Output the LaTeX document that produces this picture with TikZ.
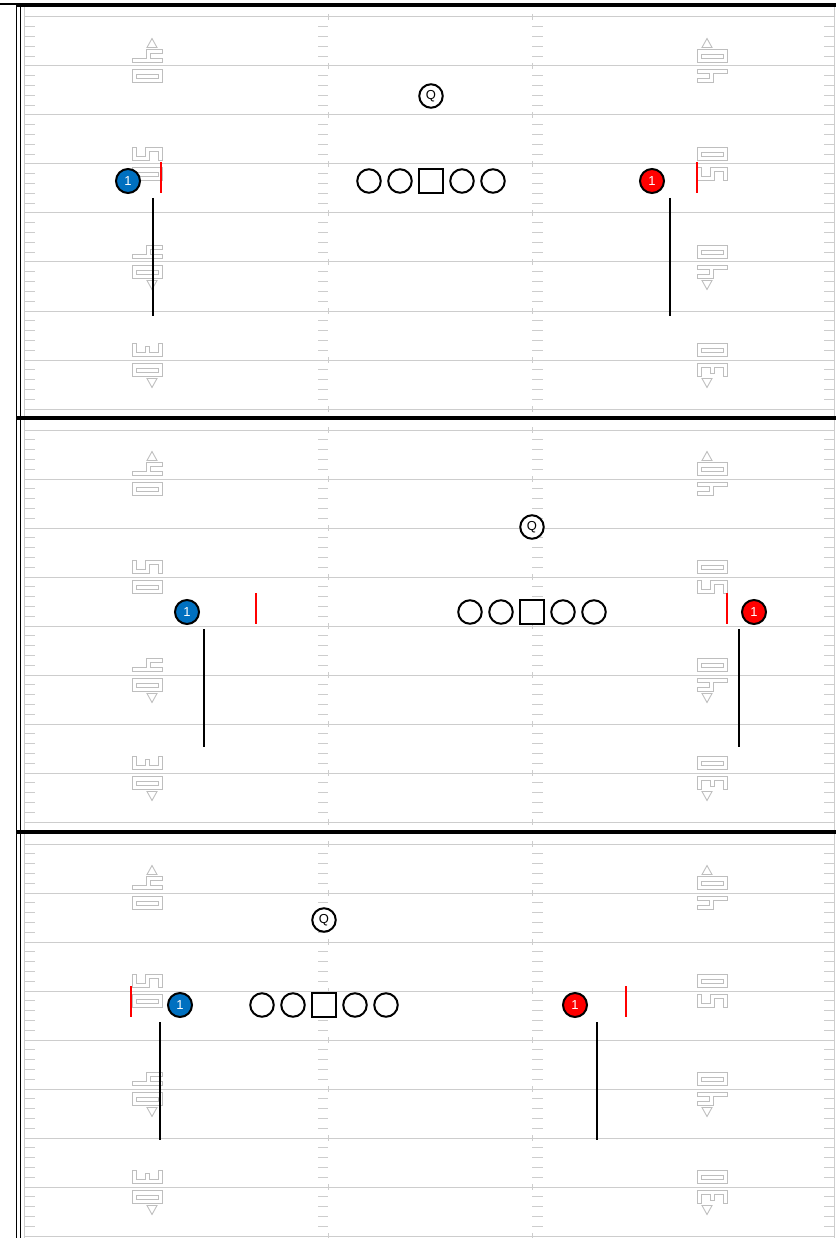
\documentclass[tikz,border=0pt]{standalone}
\usepackage{fontspec}
\setsansfont{Liberation Sans}
\usepackage{tikz}
\usetikzlibrary{positioning}

\definecolor{fieldgray}{RGB}{205,205,205}
\definecolor{numgray}{RGB}{190,190,190}
\definecolor{teamblue}{RGB}{0,112,192}
\definecolor{teamred}{RGB}{255,0,0}

\begin{document}
\begin{tikzpicture}[
  x=1pt, y=-1pt,
  font=\sffamily\fontsize{13}{13}\selectfont,
  yardline/.style={draw=fieldgray, line width=1pt},
  hashtick/.style={draw=fieldgray, line width=1pt},
  numline/.style={draw=numgray, line width=0.9pt},
  frameline/.style={draw=black, line width=1.6pt},
  panelline/.style={draw=black, line width=4pt},
  lineman/.style={circle, draw, fill=white, line width=2pt, minimum size=23.5pt, inner sep=0pt},
  snapper/.style={rectangle, draw, fill=white, line width=2pt, minimum size=23.5pt, inner sep=0pt},
  qback/.style={circle, draw, fill=white, line width=2pt, minimum size=23.5pt, inner sep=0pt},
  wideout/.style={circle, draw=black, line width=2pt, minimum size=24pt, inner sep=0pt, text=white},
  losmark/.style={draw=teamred, line width=1.3pt},
  runline/.style={draw=black, line width=1.6pt},
  numleft/.style={shift={(132,#1-16.5)}, x={(0pt,-1pt)}, y={(1pt,0pt)}},
  numright/.style={shift={(727,#1+16.5)}, x={(0pt,1pt)}, y={(-1pt,0pt)}},
  % ziffern, liegend
  dzero/.pic={\draw[numline] (0,0) rectangle (13,30) (4.5,4) rectangle (8.5,26);},
  dthree/.pic={\draw[numline] (0,30) -- (13,30) -- (13,0) -- (0,0) -- (0,4) -- (9,4) -- (9,13) -- (3,13) -- (3,17) -- (9,17) -- (9,26) -- (0,26) -- cycle;},
  dfour/.pic={\draw[numline] (0,30) -- (4,30) -- (4,18) -- (9,18) -- (9,30) -- (13,30) -- (13,0) -- (9,0) -- (9,14) -- (0,14) -- cycle;},
  dfive/.pic={\draw[numline] (0,30) -- (13,30) -- (13,26) -- (4,26) -- (4,17) -- (13,17) -- (13,0) -- (0,0) -- (0,4) -- (9,4) -- (9,13) -- (0,13) -- cycle;},
  arrbefore/.pic={\draw[numline] (-2,15) -- (-11,20) -- (-2,25) -- cycle;},
  arrafter/.pic={\draw[numline] (35,15) -- (44,20) -- (35,25) -- cycle;}
]
\useasboundingbox (0,0) rectangle (836,1238);

% spielfeld
\foreach \oy in {5,418,832} {
  \foreach \k in {0,...,8} {
    \pgfmathsetmacro{\yl}{\oy+12+49*\k}
    \draw[yardline] (24,\yl) -- (834,\yl);
    \draw[hashtick] (328,\yl-3) -- (328,\yl+3) (532,\yl-3) -- (532,\yl+3);
  }
  \foreach \k in {0,...,7} {
    \foreach \t in {1,...,4} {
      \pgfmathsetmacro{\yt}{\oy+12+49*\k+9.8*\t}
      \draw[hashtick] (25,\yt) -- (35,\yt) (318,\yt) -- (328,\yt)
        (532,\yt) -- (543,\yt) (824,\yt) -- (834,\yt);
    }
  }
  % 40 / 50 / 40 / 30 links
  \begin{scope}[numleft={\oy+61}] \pic {dfour}; \pic at (20,0) {dzero}; \pic {arrbefore}; \end{scope}
  \begin{scope}[numleft={\oy+159}] \pic {dfive}; \pic at (20,0) {dzero}; \end{scope}
  \begin{scope}[numleft={\oy+257}] \pic {dfour}; \pic at (20,0) {dzero}; \pic {arrafter}; \end{scope}
  \begin{scope}[numleft={\oy+355}] \pic {dthree}; \pic at (20,0) {dzero}; \pic {arrafter}; \end{scope}
  % rechts
  \begin{scope}[numright={\oy+61}] \pic {dfour}; \pic at (20,0) {dzero}; \pic {arrafter}; \end{scope}
  \begin{scope}[numright={\oy+159}] \pic {dfive}; \pic at (20,0) {dzero}; \end{scope}
  \begin{scope}[numright={\oy+257}] \pic {dfour}; \pic at (20,0) {dzero}; \pic {arrbefore}; \end{scope}
  \begin{scope}[numright={\oy+355}] \pic {dthree}; \pic at (20,0) {dzero}; \pic {arrbefore}; \end{scope}
}

% rahmen
\draw[yardline] (24,5) -- (24,1238) (834.5,5) -- (834.5,1238);
\draw[frameline] (0,4) -- (16.5,4);
\draw[frameline] (16.5,4) -- (16.5,1238) (20.5,4) -- (20.5,1238);
\foreach \oy in {5,418,832}
  \draw[panelline] (16,\oy) -- (836,\oy);

% aufstellungen
\foreach \oy/\qx/\bx/\bm/\bl/\rx/\rm/\rl/\py/\n in {
    5/431/128/161/153/652/697/670/176/1,
    418/532/187/256/204/754/727/739/194/2,
    832/324/180/131/160/575/626/597/173/3} {
  \node[qback] (q\n) at (\qx,\oy+\py-85) {Q};
  \node[snapper] (c\n) at (\qx,\oy+\py) {};
  \node[lineman, left=5.5pt of c\n] (lg\n) {};
  \node[lineman, left=5.5pt of lg\n] (lt\n) {};
  \node[lineman, right=5.5pt of c\n] (rg\n) {};
  \node[lineman, right=5.5pt of rg\n] (rt\n) {};
  \node[wideout, fill=teamblue] (wb\n) at (\bx,\oy+\py) {1};
  \node[wideout, fill=teamred] (wr\n) at (\rx,\oy+\py) {1};
  \draw[losmark] (\bm,\oy+\py-19) -- (\bm,\oy+\py+12);
  \draw[losmark] (\rm,\oy+\py-19) -- (\rm,\oy+\py+12);
  \draw[runline] (\bl,\oy+\py+17) -- (\bl,\oy+\py+135);
  \draw[runline] (\rl,\oy+\py+17) -- (\rl,\oy+\py+135);
}
\end{tikzpicture}
\end{document}
